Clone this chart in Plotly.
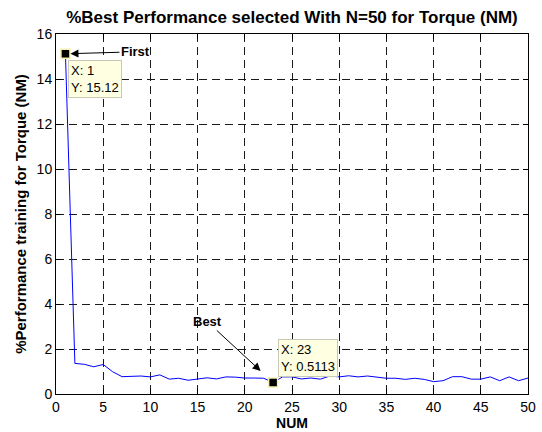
import plotly.graph_objects as go

NUM = list(range(1, 51))
PERF = [
    15.12, 1.36, 1.32, 1.21, 1.31, 0.99, 0.77, 0.77, 0.80, 0.76,
    0.85, 0.66, 0.70, 0.61, 0.67, 0.72, 0.67, 0.76, 0.75, 0.71,
    0.71, 0.70, 0.5113, 0.76, 0.76, 0.67, 0.71, 0.66, 0.80, 0.76,
    0.81, 0.76, 0.80, 0.76, 0.70, 0.70, 0.65, 0.70, 0.65, 0.55,
    0.59, 0.77, 0.77, 0.66, 0.66, 0.76, 0.59, 0.76, 0.59, 0.71,
]
X_TICKS = [0, 5, 10, 15, 20, 25, 30, 35, 40, 45, 50]
Y_TICKS = [0, 2, 4, 6, 8, 10, 12, 14, 16]

_FONT = dict(family="Liberation Sans, Arial, sans-serif", color="black")
_TIP_BG = "#FFFFE1"
_TIP_BORDER = "#C8C8B4"

first_x, first_y = NUM[0], PERF[0]
best_i = min(range(len(PERF)), key=lambda i: PERF[i])
best_x, best_y = NUM[best_i], PERF[best_i]

fig = go.Figure()

fig.add_trace(go.Scatter(
    x=NUM, y=PERF, mode="lines",
    line=dict(color="#0000FF", width=1),
    showlegend=False, hoverinfo="skip",
))

# 데이터 팁 마커
fig.add_trace(go.Scatter(
    x=[first_x, best_x], y=[first_y, best_y], mode="markers",
    marker=dict(symbol="square", size=9, color="black",
                line=dict(color="#F5F0B0", width=1.5)),
    showlegend=False, hoverinfo="skip",
))

axis_common = dict(
    showline=True, linecolor="black", linewidth=1, mirror="ticks",
    ticks="inside", ticklen=5, tickcolor="black",
    showgrid=True, gridcolor="#1a1a1a", griddash="8px,5px", gridwidth=0.8,
    zeroline=False, tickfont=dict(size=14, **_FONT), automargin=False,
)

fig.update_xaxes(
    range=[0, 50], tickvals=X_TICKS, **axis_common,
    title=dict(text="<b>NUM</b>", font=dict(size=14, **_FONT), standoff=3),
)
fig.update_yaxes(
    range=[0, 16], tickvals=Y_TICKS, **axis_common,
    title=dict(text="<b>%Performance training for Torque (NM)</b>",
               font=dict(size=15, **_FONT), standoff=6),
)

# 화살표 라벨
fig.add_annotation(
    x=first_x, y=first_y, text="<b>First</b>", showarrow=True,
    ax=70, ay=-2, arrowhead=2, arrowsize=1.6, arrowwidth=1,
    arrowcolor="black", standoff=5, font=dict(size=13, **_FONT),
)
fig.add_annotation(
    x=best_x, y=best_y, text="<b>Best</b>", showarrow=True,
    ax=-66, ay=-61, arrowhead=2, arrowsize=1.6, arrowwidth=1,
    arrowcolor="black", standoff=17, font=dict(size=13, **_FONT),
)

# 데이터 팁 박스
fig.add_annotation(
    x=first_x, y=first_y, text=f"X: {first_x}<br>Y: {first_y}",
    showarrow=False, xanchor="left", yanchor="top", xshift=3, yshift=-6,
    align="left", bgcolor=_TIP_BG, bordercolor=_TIP_BORDER, borderwidth=1,
    borderpad=2, font=dict(size=13, **_FONT),
)
fig.add_annotation(
    x=best_x, y=best_y, text=f"X: {best_x}<br>Y: {best_y}",
    showarrow=False, xanchor="left", yanchor="bottom", xshift=5, yshift=6,
    align="left", bgcolor=_TIP_BG, bordercolor=_TIP_BORDER, borderwidth=1,
    borderpad=2, font=dict(size=13, **_FONT),
)

fig.update_layout(
    width=542, height=432,
    margin=dict(l=56, r=14, t=34, b=38),
    paper_bgcolor="white", plot_bgcolor="white",
    font=_FONT,
    title=dict(
        text="<b>%Best Performance selected With N=50 for Torque (NM)</b>",
        x=0.5, xref="paper", xanchor="center",
        y=1 - 17 / 432, yref="container", yanchor="middle",
        font=dict(size=17, **_FONT),
    ),
)

fig.write_html(
    "out.html",
    config={"displayModeBar": False},
    post_script="document.body.style.margin='0';",
)
